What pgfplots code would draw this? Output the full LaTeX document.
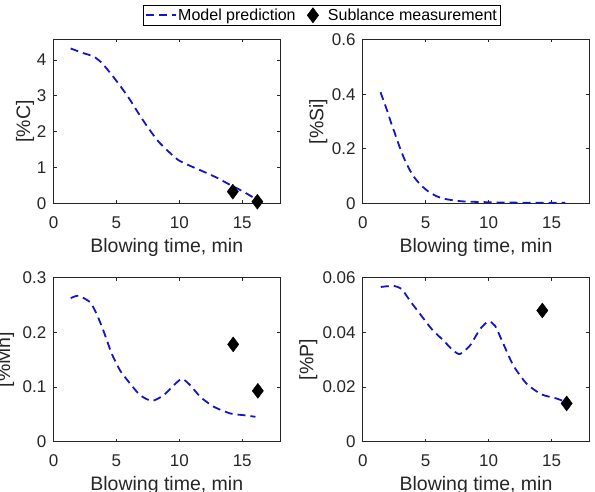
\documentclass[border=0pt]{standalone}
\usepackage{fontspec}
\setmainfont{Liberation Sans}
\usepackage{pgfplots}
\pgfplotsset{compat=1.18}

\definecolor{mblue}{RGB}{20,20,200}
\definecolor{axgray}{RGB}{38,38,38}

\pgfplotsset{
  panel/.style={
    scale only axis,
    width=226.5pt, height=164pt,
    xmin=0, xmax=18, ymin=0,
    xtick={0,5,10,15},
    axis line style={axgray, line width=0.9pt},
    tick style={axgray, line width=0.8pt},
    tick align=inside,
    major tick length=3pt,
    xtick pos=both, ytick pos=both,
    scaled y ticks=false,
    /pgf/number format/assume math mode=true,
    tick label style={text=axgray, font=\fontsize{17}{17}\selectfont, inner sep=0pt},
    xticklabel style={yshift=-13pt},
    yticklabel style={xshift=-7pt},
    label style={text=axgray, font=\fontsize{19.5}{20}\selectfont, inner sep=0pt},
    xlabel={Blowing time, min},
    xlabel style={at={(axis description cs:0.5,0)}, anchor=north, yshift=-34.5pt},
    ylabel style={at={(axis description cs:0,0.5)}, anchor=center, rotate=0},
    clip=false,
  },
  % y labels are rotated, so a shift along the node's own y moves them left
  ylab/.style={ylabel style={yshift=#1}},
  model/.style={mblue, line width=1.8pt, dash pattern=on 8pt off 5pt, smooth, tension=0.4, no marks},
  meas/.style={only marks, mark=diamond*, mark size=7.5pt, mark options={black, fill=black, solid}},
  legline/.style={legend image code/.code={\draw[##1] (0pt,0pt) -- (30pt,0pt);}},
  legmark/.style={legend image code/.code={\path[draw=none] (0pt,0pt) -- (23.5pt,0pt); \path[##1, draw=none] plot coordinates {(10pt,0pt)};}},
}

\begin{document}
\begin{tikzpicture}

% Carbon
\begin{axis}[panel, at={(53.5pt,288.5pt)}, anchor=south west,
  ymax=4.57, ytick={0,1,2,3,4}, yticklabels={0,1,2,3,4},
  ylabel={[\%C]}, ylab=28.5pt,
  legend columns=2,
  legend style={at={(axis description cs:1.184,1.1476)}, anchor=center,
    draw=black, line width=0.6pt, inner xsep=2pt, inner ysep=2.5pt,
    font=\fontsize{16}{16}\selectfont,
    nodes={inner xsep=1.5pt, inner ysep=1pt, text=black},
    /tikz/every even column/.append style={column sep=5.8pt}},
]
\addplot[model, legline] coordinates {
  (1.36,4.32) (2.37,4.19) (3.17,4.10) (3.83,3.92) (4.62,3.59) (5.42,3.22)
  (6.08,2.89) (6.74,2.52) (7.54,2.10) (8.33,1.73) (9.13,1.45) (9.92,1.21)
  (10.85,1.05) (11.91,0.89) (12.97,0.72) (14.03,0.52) (15.09,0.33) (16.1,0.12)
};
\addlegendentry{Model prediction}
\addplot[meas, legmark] coordinates {
  (14.25,0.33) (16.2,0.05)
};
\addlegendentry{Sublance measurement}
\end{axis}

% Silicon
\begin{axis}[panel, at={(362.8pt,288.5pt)}, anchor=south west,
  ymax=0.6, ytick={0,0.2,0.4,0.6}, yticklabels={0,0.2,0.4,0.6},
  ylabel={[\%Si]}, ylab=44.5pt,
]
\addplot[model] coordinates {
  (1.41,0.407) (1.7,0.37) (1.99,0.332) (2.25,0.295) (2.53,0.259) (2.9,0.21)
  (3.32,0.161) (3.7,0.125) (4.12,0.094) (4.6,0.068) (5.18,0.045) (5.8,0.028)
  (6.5,0.017) (7.85,0.008) (10.5,0.004) (12.5,0.003) (14.5,0.003) (16.1,0.003)
};
\end{axis}

% Manganese
\begin{axis}[panel, at={(53.5pt,50.3pt)}, anchor=south west,
  ymax=0.3, ytick={0,0.1,0.2,0.3}, yticklabels={0,0.1,0.2,0.3},
  ylabel={[\%Mn]}, ylab=48.5pt,
]
\addplot[model] coordinates {
  (1.37,0.2625) (1.98,0.267) (2.91,0.255) (3.44,0.233) (3.97,0.203) (4.63,0.161)
  (5.30,0.130) (6.10,0.106) (6.89,0.085) (7.82,0.0746) (8.75,0.085) (9.55,0.103)
  (10.21,0.115) (10.88,0.103) (11.67,0.082) (12.73,0.064) (14.06,0.0516)
  (15.12,0.0485) (16.05,0.0455)
};
\addplot[meas] coordinates {
  (14.28,0.178) (16.24,0.093)
};
\end{axis}

% Phosphorus
\begin{axis}[panel, at={(362.8pt,50.3pt)}, anchor=south west,
  ymax=0.06, ytick={0,0.02,0.04,0.06}, yticklabels={0,0.02,0.04,0.06},
  ylabel={[\%P]}, ylab=54.5pt,
]
\addplot[model] coordinates {
  (1.43,0.0566) (2.43,0.0570) (3.09,0.0558) (3.76,0.0515) (4.55,0.0467)
  (5.48,0.0412) (6.41,0.0370) (7.20,0.0333) (7.73,0.0321) (8.52,0.0352)
  (9.32,0.0412) (9.98,0.0440) (10.51,0.0424) (11.17,0.0358) (11.96,0.0279)
  (13.02,0.0212) (14.21,0.0173) (15.40,0.0158) (16.07,0.0146)
};
\addplot[meas] coordinates {
  (14.27,0.048) (16.2,0.014)
};
\end{axis}

\pgfresetboundingbox
\useasboundingbox (0pt,0pt) rectangle (595pt,492pt);
\end{tikzpicture}
\end{document}
